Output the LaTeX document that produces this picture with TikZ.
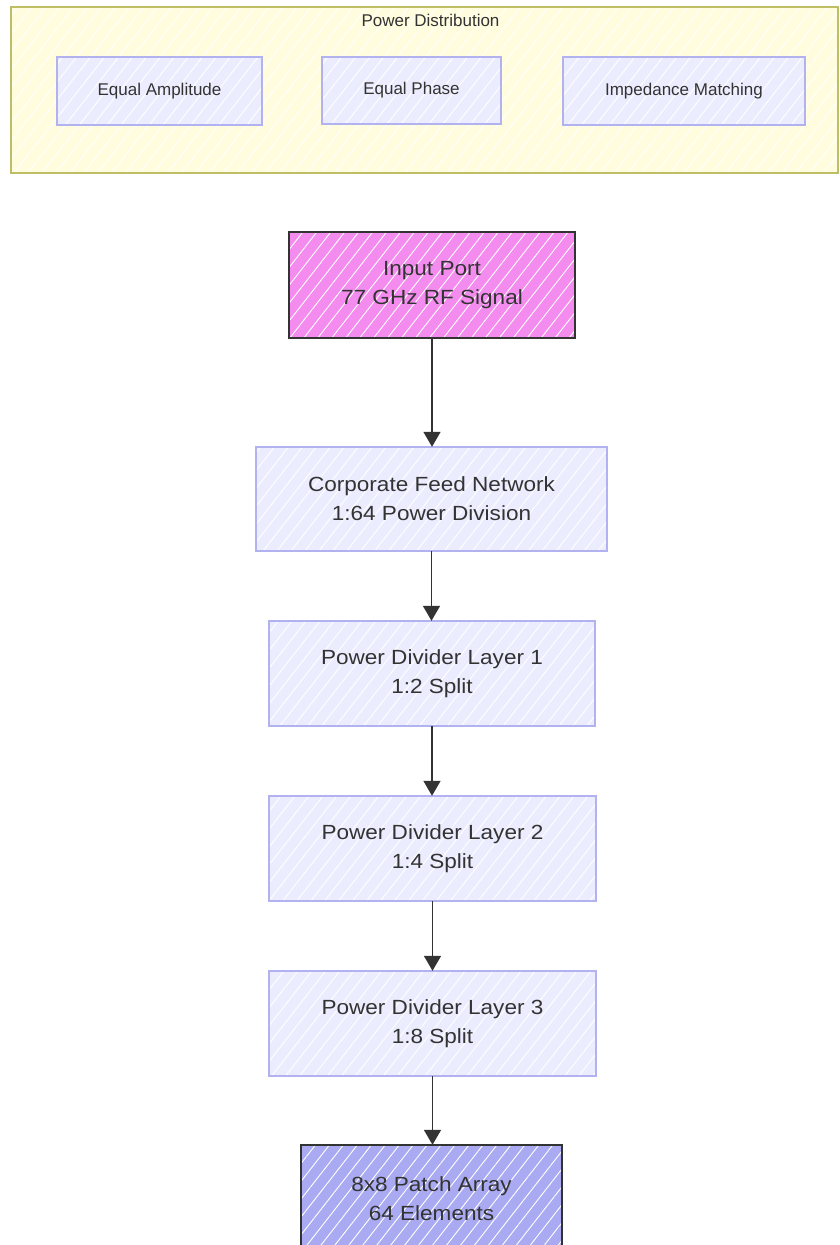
\documentclass[tikz,border=0pt]{standalone}
\usepackage{fontspec}
\setmainfont{Liberation Sans}
\newfontfamily\widesans{Liberation Sans}[FakeStretch=1.1]
\usetikzlibrary{arrows.meta,patterns.meta}

\definecolor{grpfill}{RGB}{255,253,222}
\definecolor{grpline}{RGB}{190,190,100}
\definecolor{lavfill}{RGB}{236,236,255}
\definecolor{lavline}{RGB}{178,178,240}
\definecolor{portfill}{RGB}{243,140,238}
\definecolor{arrayfill}{RGB}{170,170,242}
\definecolor{ink}{RGB}{51,51,51}

\tikzset{
  x=1pt, y=1pt,
  % fill, then white hatching, then the outline on top
  hatch/.style={postaction={pattern={Lines[angle=52,distance=11pt,line width=0.9pt]}, pattern color=white}},
  outline/.style 2 args={postaction={draw=#1, line width=#2}},
  box/.style={rectangle, inner sep=0pt, align=center, text=ink,
    font=\widesans\fontsize{20.5}{29}\selectfont, hatch},
  lavbox/.style={box, fill=lavfill, outline={lavline}{1.6pt}},
  smallbox/.style={lavbox, font=\fontsize{17}{20}\selectfont},
  group/.style={rectangle, inner sep=0pt, fill=grpfill, hatch, outline={grpline}{1.6pt}},
  flow/.style={draw=ink, line width=1.6pt, -{Triangle[length=15pt,width=17pt]}}
}

\begin{document}
\begin{tikzpicture}
\clip (0,0) rectangle (839,-1245);
\fill[white] (0,0) rectangle (839,-1245);

% Power distribution group
\node[group, minimum width=827, minimum height=166] (grp) at (424.5,-90) {};
\node[text=ink, font=\fontsize{17}{20}\selectfont, inner sep=0pt] (grptitle) at (430.5,-20) {Power Distribution};
\node[smallbox, minimum width=205, minimum height=68] (amp) at (159.5,-91) {Equal Amplitude};
\node[smallbox, minimum width=179, minimum height=67] (phase) at (411.5,-90.5) {Equal Phase};
\node[smallbox, minimum width=242, minimum height=68] (imp) at (684,-91) {Impedance Matching};

% Feed chain
\node[box, fill=portfill, outline={ink}{2pt}, minimum width=286, minimum height=106] (inport) at (432,-285) {Input Port\\77 GHz RF Signal};
\node[lavbox, minimum width=351, minimum height=104] (corp) at (431.5,-499) {Corporate Feed Network\\1:64 Power Division};
\node[lavbox, minimum width=326, minimum height=105] (pd1) at (432,-673.5) {Power Divider Layer 1\\1:2 Split};
\node[lavbox, minimum width=327, minimum height=105] (pd2) at (432.5,-848.5) {Power Divider Layer 2\\1:4 Split};
\node[lavbox, minimum width=327, minimum height=105] (pd3) at (432.5,-1023.5) {Power Divider Layer 3\\1:8 Split};
\node[box, fill=arrayfill, outline={ink}{2pt}, minimum width=261, minimum height=107] (patch) at (431.5,-1198.5) {8x8 Patch Array\\64 Elements};

\draw[flow] (inport.south) -- (inport.south |- corp.north);
\draw[flow] (corp.south) -- (corp.south |- pd1.north);
\draw[flow] (pd1.south) -- (pd1.south |- pd2.north);
\draw[flow] (pd2.south) -- (pd2.south |- pd3.north);
\draw[flow] (pd3.south) -- (pd3.south |- patch.north);
\end{tikzpicture}
\end{document}
